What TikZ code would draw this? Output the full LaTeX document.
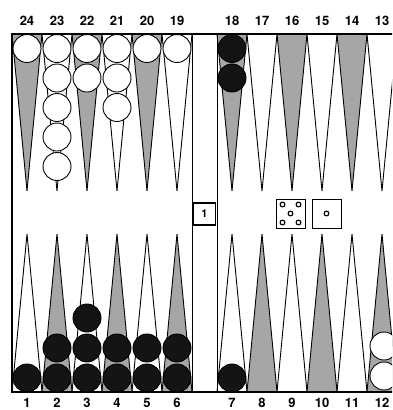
\documentclass[tikz,border=0pt]{standalone}
\usepackage{fontspec}
\setsansfont{TeX Gyre Heros}
\begin{document}
\begin{tikzpicture}[x=1pt, y=-1pt, line width=0.9pt,
    ptdark/.style={draw, fill=black!35},
    ptlight/.style={draw, fill=white},
    whitestone/.style={draw, fill=white},
    blackstone/.style={draw, fill=black!92},
    ptlabel/.style={font=\sffamily\bfseries\fontsize{13}{13}\selectfont, inner sep=0pt},
    pip/.style={draw, line width=1.1pt, fill=white}]
    \useasboundingbox (0,0) rectangle (392,410);
    \clip (0,0) rectangle (392,410);
    \fill[white] (0,0) rectangle (392,410);
    \foreach \x in {12,72,132,217,277,337} {
        \draw[ptdark] (\x,34) -- (\x+15,191) -- (\x+30,34);
        \draw[ptlight] (\x,392) -- (\x+15,234) -- (\x+30,392);
    }
    \foreach \x in {42,102,162,247,307,367} {
        \draw[ptlight] (\x,34) -- (\x+15,191) -- (\x+30,34);
        \draw[ptdark] (\x,392) -- (\x+15,234) -- (\x+30,392);
    }
    \draw[line width=1.3pt] (12,34) rectangle (410,392);
    \draw (192,34) -- (192,392);
    \draw (217,34) -- (217,392);
    \foreach \x/\n in {27/1, 57/5, 87/2, 117/3, 147/1, 177/1}
        \foreach \j in {1,...,\n}
            \draw[whitestone] (\x,48.5+29.5*\j-29.5) circle (14);
    \foreach \j in {1,2}
        \draw[blackstone] (232,48.5+29.5*\j-29.5) circle (14);
    \foreach \x/\n in {27/1, 57/2, 87/3, 117/2, 147/2, 177/2, 232/1}
        \foreach \j in {1,...,\n}
            \draw[blackstone] (\x,378-30*\j+30) circle (14);
    \foreach \j in {1,2}
        \draw[whitestone] (384,376-30*\j+30) circle (14);
    \foreach \n [count=\k from 0] in {24,23,...,13} {
        \pgfmathsetmacro\lx{\k<6 ? 27+30*\k : 232+30*(\k-6)}
        \node[ptlabel] (top\n) at (\lx,21) {\n};
    }
    \foreach \n [count=\k from 0] in {1,...,12} {
        \pgfmathsetmacro\lx{\k<6 ? 27+30*\k : 232+30*(\k-6)}
        \node[ptlabel] (bot\n) at (\lx,403) {\n};
    }
    \node[draw, fill=white, line width=1.1pt, minimum size=22pt, inner sep=0pt,
        font=\sffamily\bfseries\fontsize{11}{11}\selectfont] (cube) at (204.5,214) {1};
    \node[draw, fill=white, minimum size=29pt, inner sep=0pt] (dieA) at (290.5,213.5) {};
    \node[draw, fill=white, minimum size=29pt, inner sep=0pt] (dieB) at (326.5,213.5) {};
    \foreach \dx/\dy in {-8/-9, 8/-9, 0/0, -8/9, 8/9}
        \draw[pip] ([shift={(\dx,\dy)}]dieA.center) circle (2.4);
    \draw[pip] (dieB.center) circle (2.4);
\end{tikzpicture}
\end{document}
